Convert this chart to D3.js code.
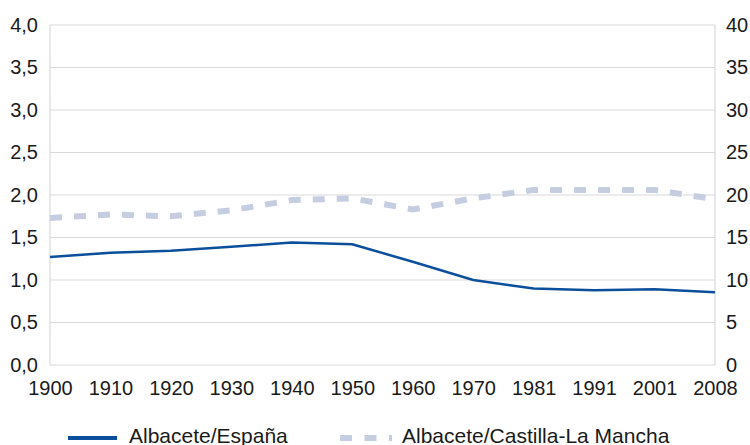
<!DOCTYPE html>
<html><head><meta charset="utf-8">
<script src="https://cdn.jsdelivr.net/npm/d3@7"></script>
<style>body{margin:0;background:#fff}svg{display:block}text{font-family:"Liberation Sans",Arial,sans-serif}</style>
</head><body><svg id="c" width="750" height="445"></svg>
<script>
const years = ["1900","1910","1920","1930","1940","1950","1960","1970","1981","1991","2001","2008"];
const espana = [1.27,1.32,1.345,1.39,1.44,1.42,1.215,1.0,0.90,0.88,0.89,0.855];
const clm = [17.3,17.7,17.5,18.2,19.4,19.6,18.3,19.6,20.6,20.6,20.6,19.5];
const leftTicks = [0,0.5,1,1.5,2,2.5,3,3.5,4];
const rightTicks = [0,5,10,15,20,25,30,35,40];
const seriesNames = ["Albacete/España","Albacete/Castilla-La Mancha"];

const svg = d3.select("#c");
const L=50,R=715,T=25,B=365;
const x = d3.scalePoint().domain(years).range([L,R]);
const yL = d3.scaleLinear().domain([0,4]).range([B,T]);
const yR = d3.scaleLinear().domain([0,40]).range([B,T]);
const fmt = d3.format(".1f");
const grid="#d9d9d9";

// gridlines
svg.append("g").selectAll("line").data(leftTicks).join("line")
  .attr("x1",L).attr("x2",R).attr("y1",d=>yL(d)).attr("y2",d=>yL(d))
  .attr("stroke",grid).attr("stroke-width",1.2);
svg.append("line").attr("x1",L).attr("x2",L).attr("y1",T).attr("y2",B).attr("stroke",grid).attr("stroke-width",1.2);
svg.append("line").attr("x1",R).attr("x2",R).attr("y1",T).attr("y2",B).attr("stroke",grid).attr("stroke-width",1.2);

// axes
const axL = svg.append("g").attr("transform",`translate(${L},0)`)
  .call(d3.axisLeft(yL).tickValues(leftTicks).tickFormat(d=>fmt(d).replace(".",",")).tickSize(0).tickPadding(12));
const axR = svg.append("g").attr("transform",`translate(${R},0)`)
  .call(d3.axisRight(yR).tickValues(rightTicks).tickSize(0).tickPadding(11));
const axB = svg.append("g").attr("transform",`translate(0,${B})`)
  .call(d3.axisBottom(x).tickSize(0).tickPadding(16));
[axL,axR,axB].forEach(a=>{a.select(".domain").remove();a.selectAll("text").attr("font-size",20).attr("fill","#1a1a1a").attr("font-family",'"Liberation Sans",Arial,sans-serif');});

// lines
const lineL = d3.line().x((d,i)=>x(years[i])).y(d=>yL(d));
const lineR = d3.line().x((d,i)=>x(years[i])).y(d=>yR(d));
svg.append("path").datum(clm).attr("d",lineR).attr("fill","none")
  .attr("stroke","#c5cde0").attr("stroke-width",6).attr("stroke-dasharray","12,12");
svg.append("path").datum(espana).attr("d",lineL).attr("fill","none")
  .attr("stroke","#0b4f9c").attr("stroke-width",2.5);

// legend
const lg = svg.append("g");
lg.append("line").attr("x1",68).attr("x2",117).attr("y1",438).attr("y2",438).attr("stroke","#0b4f9c").attr("stroke-width",4);
lg.append("text").attr("x",129).attr("y",443).attr("font-size",21).attr("fill","#1a1a1a").text(seriesNames[0]);
lg.append("line").attr("x1",340).attr("x2",392).attr("y1",438).attr("y2",438).attr("stroke","#c5cde0").attr("stroke-width",6).attr("stroke-dasharray","12,12.5");
lg.append("text").attr("x",402).attr("y",443).attr("font-size",21).attr("fill","#1a1a1a").text(seriesNames[1]);
</script></body></html>
